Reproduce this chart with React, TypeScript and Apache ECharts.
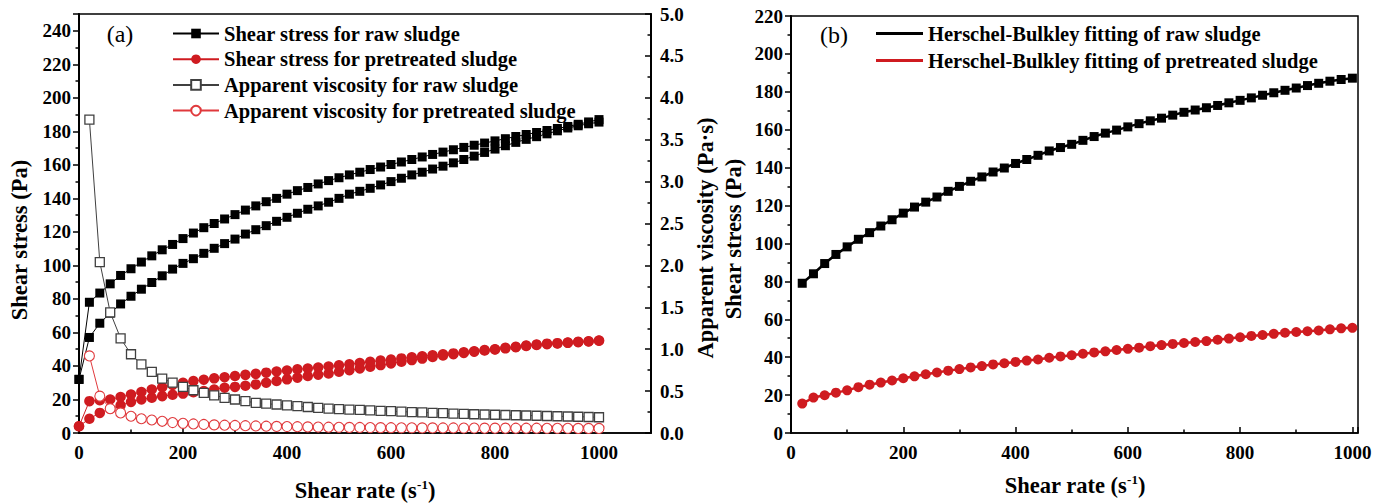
import React, { useEffect, useRef } from "react";
import * as echarts from "echarts";

// ---------- data ----------
const shearRate = [20, 40, 60, 80, 100, 120, 140, 160, 180, 200, 220, 240, 260, 280, 300, 320, 340, 360, 380, 400, 420, 440, 460, 480, 500, 520, 540, 560, 580, 600, 620, 640, 660, 680, 700, 720, 740, 760, 780, 800, 820, 840, 860, 880, 900, 920, 940, 960, 980, 1000];

const rawStressAt0 = 32;
const preStressAt0 = 4;

// panel (a) shear stress, raw sludge (two branches of the loop)
const rawStressUp = [57, 65.5, 71.5, 77, 81.6, 85.8, 89.8, 93.8, 97.8, 101.2, 104, 107.2, 110.2, 113, 115.7, 118.7, 121.3, 123.7, 126.3, 128.7, 131.1, 133.5, 135.5, 137.7, 140, 142.5, 144.2, 146, 148, 150, 152, 154, 155.6, 157.5, 159.2, 161.2, 163.2, 165.2, 167.4, 169.4, 171.4, 173.4, 175.2, 176.8, 178.5, 180.3, 182, 183.3, 184.5, 185.5];
const rawStressDown = [78, 83.5, 89, 94, 98, 102, 105.7, 109.3, 112.5, 116, 119.3, 122.5, 125, 127.7, 130.3, 133, 135.5, 138, 140, 142.5, 144.6, 146.5, 148.6, 150.6, 152.3, 154, 155.6, 157.2, 158.7, 160.2, 161.7, 163.2, 164.7, 166.2, 167.6, 169, 170.4, 171.7, 173, 174.3, 175.6, 176.9, 178.1, 179.3, 180.5, 181.7, 182.9, 184.2, 185.6, 187];

// panel (a) shear stress, pretreated sludge
const preStressUp = [8.5, 12, 14.5, 16.5, 18.5, 20, 21, 22, 22.8, 23.5, 24.3, 25, 26, 27, 27.5, 28.2, 29, 30, 31, 32, 33, 34, 34.8, 35.5, 36.5, 37.5, 38.5, 39.5, 40.5, 41.5, 42.5, 43.5, 44.4, 45.3, 46.2, 47, 47.8, 48.5, 49.2, 49.8, 50.5, 51.2, 51.9, 52.5, 53, 53.4, 53.8, 54.2, 54.6, 55];
const preStressDown = [19, 19.5, 20, 21.5, 23, 24.5, 26, 27.3, 28.7, 30, 31, 31.8, 32.6, 33.3, 34, 34.7, 35.3, 36, 36.7, 37.3, 38, 38.5, 39.1, 39.7, 40.4, 41, 41.8, 42.5, 43.2, 43.8, 44.5, 45.2, 45.8, 46.4, 47, 47.5, 48.2, 48.8, 49.5, 50, 50.8, 51.4, 52.2, 52.8, 53.3, 53.6, 54, 54.4, 54.7, 55.2];

// panel (a) apparent viscosity (Pa·s)
const rawVisc = [3.74, 2.04, 1.44, 1.13, 0.94, 0.82, 0.73, 0.65, 0.6, 0.55, 0.51, 0.48, 0.45, 0.42, 0.4, 0.38, 0.36, 0.35, 0.34, 0.33, 0.32, 0.31, 0.3, 0.29, 0.285, 0.28, 0.275, 0.27, 0.265, 0.26, 0.255, 0.25, 0.245, 0.24, 0.236, 0.232, 0.228, 0.224, 0.221, 0.218, 0.215, 0.212, 0.209, 0.206, 0.203, 0.2, 0.197, 0.194, 0.191, 0.188];
const preVisc = [0.92, 0.44, 0.29, 0.24, 0.2, 0.17, 0.155, 0.14, 0.125, 0.115, 0.108, 0.102, 0.097, 0.093, 0.09, 0.087, 0.084, 0.081, 0.079, 0.077, 0.075, 0.073, 0.071, 0.069, 0.068, 0.067, 0.066, 0.065, 0.064, 0.063, 0.062, 0.062, 0.061, 0.061, 0.06, 0.06, 0.059, 0.059, 0.058, 0.058, 0.058, 0.057, 0.057, 0.057, 0.056, 0.056, 0.056, 0.055, 0.055, 0.055];

// panel (b) Herschel-Bulkley fitting
const fitRaw = [79, 84, 89.4, 94.2, 98.2, 102.2, 105.7, 109.2, 112.5, 116, 119.2, 121.8, 124.5, 127.5, 130.1, 132.8, 135.1, 137.7, 139.8, 142.2, 144.3, 146.5, 148.8, 150.6, 152.3, 154.4, 156.4, 158.2, 159.8, 161.5, 163.2, 164.7, 166.1, 167.7, 169.2, 170.4, 171.6, 172.8, 174.2, 175.5, 176.8, 178.2, 179.5, 180.8, 182, 183.3, 184.5, 185.6, 186.5, 187.2];
const fitPre = [15.5, 18.7, 19.9, 21.3, 22.5, 24.2, 25.5, 26.6, 27.7, 28.9, 29.9, 31, 31.9, 32.9, 33.7, 34.6, 35.3, 36.2, 36.8, 37.5, 38.2, 38.8, 39.7, 40.4, 41, 41.8, 42.5, 43.1, 43.8, 44.4, 45, 45.8, 46.4, 47, 47.5, 48, 48.5, 49.2, 49.8, 50.5, 51.2, 51.7, 52.3, 52.9, 53.3, 53.7, 54.1, 54.7, 55.2, 55.5];

const legendA = [
  "Shear stress for raw sludge",
  "Shear stress for pretreated sludge",
  "Apparent viscosity for raw sludge",
  "Apparent viscosity for pretreated sludge",
];
const legendB = [
  "Herschel-Bulkley fitting of raw sludge",
  "Herschel-Bulkley fitting of pretreated sludge",
];

// ---------- styling ----------
const FONT = "'Liberation Serif', 'Times New Roman', serif";
const RED = "#cf1b20";
const RED_OPEN = "#e0393c";
const GREY = "#404040";

const pairs = (ys: number[]) => shearRate.map((x, i) => [x, ys[i]]);

function loop(at0: number, up: number[], down: number[]) {
  return [[0, at0], ...pairs(up), ...pairs(down).reverse(), [0, at0]];
}

const labelStyle = {
  fontSize: 19,
  fontWeight: "bold" as const,
  fontFamily: FONT,
  color: "#000",
};

function xAxis(gridIndex: number, max: number) {
  return {
    type: "value",
    gridIndex,
    min: 0,
    max,
    interval: 200,
    axisLine: { show: true, onZero: false, lineStyle: { color: "#000", width: 1.5 } },
    axisTick: { show: true, inside: true, length: 6, lineStyle: { color: "#000", width: 1.5 } },
    minorTick: { show: true, splitNumber: 2, length: 3.5, lineStyle: { color: "#000", width: 1.5 } },
    splitLine: { show: false },
    axisLabel: {
      ...labelStyle,
      margin: 10,
      formatter: (v: number) => (v > 1000 ? "" : String(v)),
    },
  };
}

function yAxis(gridIndex: number, max: number, interval: number, opts: any = {}) {
  const right = opts.position === "right";
  return {
    type: "value",
    gridIndex,
    min: 0,
    max,
    interval,
    position: opts.position || "left",
    axisLine: { show: true, onZero: false, lineStyle: { color: "#000", width: 2 } },
    axisTick: { show: true, inside: right, length: 6, lineStyle: { color: "#000", width: 1.5 } },
    minorTick: { show: true, splitNumber: 2, length: 3.5, lineStyle: { color: "#000", width: 1.5 } },
    splitLine: { show: false },
    axisLabel: {
      ...labelStyle,
      margin: right ? 9 : 8,
      formatter: opts.formatter,
    },
  };
}

const titleText = (x: number, y: number, text: string, rot = 0) => ({
  type: "text",
  x,
  y,
  rotation: rot,
  style: {
    text,
    fill: "#000",
    fontSize: 22.5,
    fontWeight: "bold",
    fontFamily: FONT,
    align: "center",
    verticalAlign: "middle",
    textAlign: "center",
    textVerticalAlign: "middle",
  },
});

const rateTitle = (x: number, y: number) => ({
  type: "text",
  x,
  y,
  style: {
    text: "{a|Shear rate (s}{b|-1}{a|)}",
    align: "center",
    verticalAlign: "middle",
    textAlign: "center",
    textVerticalAlign: "middle",
    fill: "#000",
    rich: {
      a: { fontSize: 22.5, fontWeight: "bold", fontFamily: FONT, fill: "#000", lineHeight: 24 },
      b: { fontSize: 13, fontWeight: "bold", fontFamily: FONT, fill: "#000", verticalAlign: "top", lineHeight: 13 },
    },
  },
});

const panelLabel = (x: number, y: number, text: string) => ({
  type: "text",
  x,
  y,
  style: {
    text,
    fill: "#000",
    fontSize: 24,
    fontFamily: FONT,
    align: "center",
    verticalAlign: "middle",
    textAlign: "center",
    textVerticalAlign: "middle",
  },
});

export default function App() {
  const ref = useRef<HTMLDivElement>(null);

  useEffect(() => {
    if (!ref.current) return;
    const chart = echarts.init(ref.current, null, { renderer: "svg" });

    const option: any = {
      animation: false,
      backgroundColor: "#fff",
      grid: [
        { left: 79, top: 14, width: 572, height: 419, show: true, borderColor: "#000", borderWidth: 1.5, containLabel: false },
        { left: 791, top: 16, width: 567, height: 417, show: true, borderColor: "#000", borderWidth: 1.5, containLabel: false },
      ],
      xAxis: [xAxis(0, 1100), xAxis(1, 1010)],
      yAxis: [
        yAxis(0, 250, 20, { formatter: (v: number) => (v > 240 ? "" : String(v)) }),
        yAxis(0, 5, 0.5, { position: "right", formatter: (v: number) => v.toFixed(1) }),
        yAxis(1, 220, 20, { formatter: (v: number) => String(v) }),
      ],
      legend: [
        {
          data: legendA,
          orient: "vertical",
          left: 172,
          top: 23,
          padding: 0,
          itemWidth: 46,
          itemHeight: 12,
          itemGap: 4.7,
          textStyle: { ...labelStyle, fontSize: 20.5, lineHeight: 20 },
          selectedMode: false,
        },
        {
          data: legendB,
          orient: "vertical",
          left: 876,
          top: 23,
          padding: 0,
          icon: "rect",
          itemWidth: 47,
          itemHeight: 3,
          itemGap: 6,
          textStyle: { ...labelStyle, fontSize: 20.5, lineHeight: 20 },
          selectedMode: false,
        },
      ],
      series: [
        {
          name: legendA[0],
          type: "line",
          xAxisIndex: 0,
          yAxisIndex: 0,
          data: loop(rawStressAt0, rawStressUp, rawStressDown),
          symbol: "rect",
          symbolSize: 9,
          lineStyle: { color: "#000", width: 1 },
          itemStyle: { color: "#000" },
          z: 2,
        },
        {
          name: legendA[1],
          type: "line",
          xAxisIndex: 0,
          yAxisIndex: 0,
          data: loop(preStressAt0, preStressUp, preStressDown),
          symbol: "circle",
          symbolSize: 10.5,
          lineStyle: { color: RED, width: 1 },
          itemStyle: { color: RED },
          z: 3,
        },
        {
          name: legendA[2],
          type: "line",
          xAxisIndex: 0,
          yAxisIndex: 1,
          data: pairs(rawVisc),
          symbol: "rect",
          symbolSize: 9,
          lineStyle: { color: GREY, width: 1 },
          itemStyle: { color: "#fff", borderColor: GREY, borderWidth: 1.3 },
          z: 4,
        },
        {
          name: legendA[3],
          type: "line",
          xAxisIndex: 0,
          yAxisIndex: 1,
          data: pairs(preVisc),
          symbol: "circle",
          symbolSize: 10,
          lineStyle: { color: RED_OPEN, width: 1 },
          itemStyle: { color: "#fff", borderColor: RED_OPEN, borderWidth: 1.1 },
          z: 5,
        },
        {
          name: legendB[0],
          type: "line",
          xAxisIndex: 1,
          yAxisIndex: 2,
          data: pairs(fitRaw),
          symbol: "rect",
          symbolSize: 9,
          lineStyle: { color: "#000", width: 2.5 },
          itemStyle: { color: "#000" },
        },
        {
          name: legendB[1],
          type: "line",
          xAxisIndex: 1,
          yAxisIndex: 2,
          data: pairs(fitPre),
          symbol: "circle",
          symbolSize: 10,
          lineStyle: { color: RED, width: 2.5 },
          itemStyle: { color: RED },
        },
      ],
      graphic: [
        panelLabel(120, 34, "(a)"),
        panelLabel(834, 35, "(b)"),
        titleText(19, 240, "Shear stress (Pa)", Math.PI / 2),
        titleText(705, 238, "Apparent viscosity (Pa·s)", Math.PI / 2),
        titleText(733, 239, "Shear stress (Pa)", Math.PI / 2),
        rateTitle(365, 490),
        rateTitle(1075, 485),
      ],
    };

    chart.setOption(option);
    return () => chart.dispose();
  }, []);

  return (
    <div
      ref={ref}
      style={{ position: "absolute", left: 0, top: 0, width: 1384, height: 504, background: "#fff" }}
    />
  );
}
